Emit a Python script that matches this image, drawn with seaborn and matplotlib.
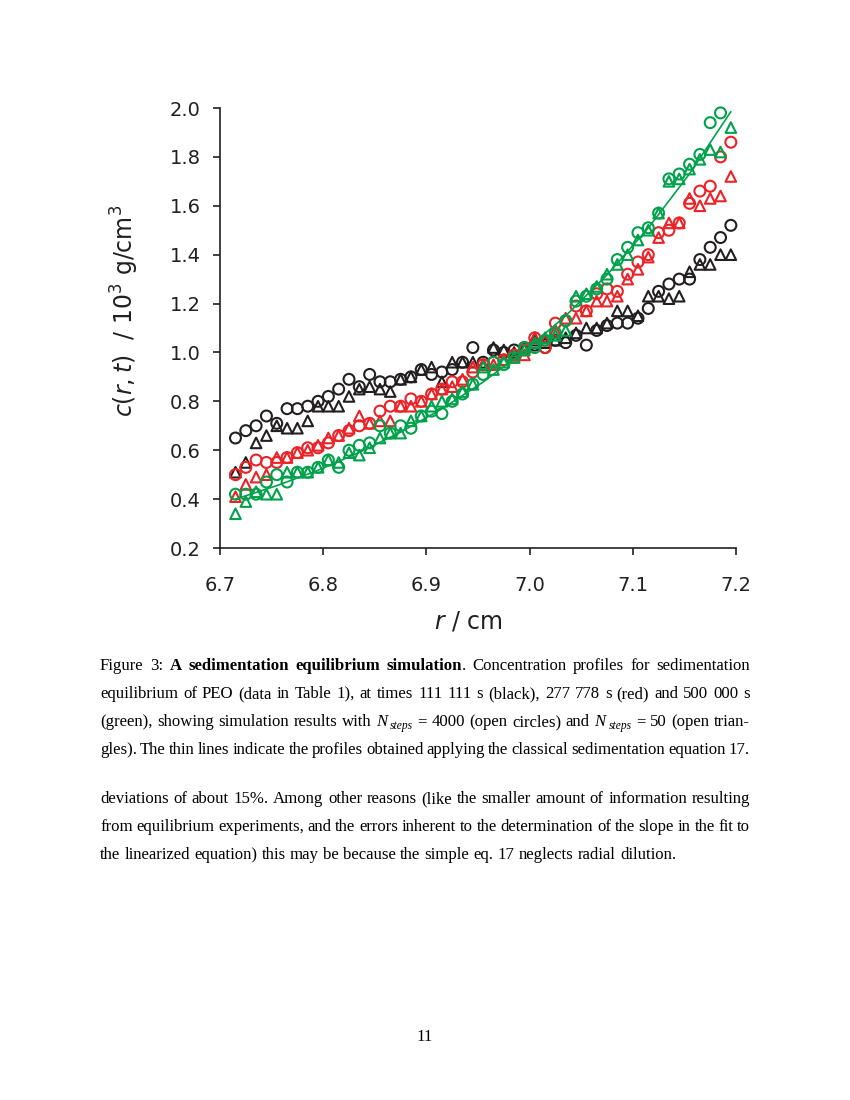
import numpy as np
import pandas as pd
import matplotlib
matplotlib.use("Agg")
import matplotlib.pyplot as plt
import seaborn as sns

# ---------------- data ----------------
r_vals = [6.715, 6.725, 6.735, 6.745, 6.755, 6.765, 6.775, 6.785, 6.795, 6.805,
          6.815, 6.825, 6.835, 6.845, 6.855, 6.865, 6.875, 6.885, 6.895, 6.905,
          6.915, 6.925, 6.935, 6.945, 6.955, 6.965, 6.975, 6.985, 6.995, 7.005,
          7.015, 7.025, 7.035, 7.045, 7.055, 7.065, 7.075, 7.085, 7.095, 7.105,
          7.115, 7.125, 7.135, 7.145, 7.155, 7.165, 7.175, 7.185, 7.195]

black_circles = [0.65, 0.68, 0.70, 0.74, 0.71, 0.77, 0.77, 0.78, 0.80, 0.82, 0.85, 0.89,
                 0.86, 0.91, 0.88, 0.88, 0.89, 0.90, 0.93, 0.91, 0.92, 0.93, 0.96, 1.02,
                 0.96, 1.01, 1.00, 1.01, 1.02, 1.03, 1.02, 1.05, 1.04, 1.07, 1.03, 1.09,
                 1.11, 1.12, 1.12, 1.14, 1.18, 1.25, 1.28, 1.30, 1.30, 1.38, 1.43, 1.47, 1.52]
black_triangles = [0.51, 0.55, 0.63, 0.66, 0.70, 0.69, 0.69, 0.72, 0.78, 0.78, 0.78, 0.82,
                   0.85, 0.86, 0.85, 0.84, 0.89, 0.90, 0.93, 0.94, 0.88, 0.96, 0.96, 0.96,
                   0.95, 1.02, 1.01, 1.00, 1.02, 1.05, 1.04, 1.05, 1.06, 1.08, 1.10, 1.10,
                   1.12, 1.17, 1.17, 1.15, 1.23, 1.23, 1.22, 1.23, 1.33, 1.36, 1.36, 1.40, 1.40]
red_circles = [0.50, 0.53, 0.56, 0.55, 0.55, 0.57, 0.59, 0.61, 0.61, 0.63, 0.66, 0.68,
               0.70, 0.71, 0.76, 0.78, 0.78, 0.81, 0.80, 0.83, 0.85, 0.88, 0.88, 0.92,
               0.95, 0.96, 0.97, 0.99, 1.01, 1.06, 1.02, 1.12, 1.13, 1.19, 1.17, 1.24,
               1.26, 1.25, 1.32, 1.37, 1.40, 1.49, 1.50, 1.53, 1.61, 1.66, 1.68, 1.80, 1.86]
red_triangles = [0.41, 0.46, 0.49, 0.50, 0.57, 0.57, 0.59, 0.60, 0.62, 0.65, 0.66, 0.69,
                 0.74, 0.71, 0.72, 0.72, 0.78, 0.78, 0.80, 0.83, 0.85, 0.86, 0.89, 0.94,
                 0.95, 0.95, 0.97, 0.98, 0.99, 1.06, 1.05, 1.09, 1.14, 1.14, 1.17, 1.21,
                 1.21, 1.23, 1.30, 1.34, 1.39, 1.47, 1.53, 1.53, 1.63, 1.60, 1.63, 1.64, 1.72]
green_circles = [0.42, 0.42, 0.42, 0.47, 0.50, 0.47, 0.51, 0.51, 0.53, 0.56, 0.53, 0.60,
                 0.62, 0.63, 0.70, 0.67, 0.70, 0.69, 0.74, 0.76, 0.75, 0.80, 0.83, 0.87,
                 0.91, 0.96, 0.95, 0.98, 1.02, 1.02, 1.05, 1.08, 1.13, 1.21, 1.23, 1.26,
                 1.30, 1.38, 1.43, 1.49, 1.51, 1.57, 1.71, 1.73, 1.77, 1.81, 1.94, 1.98, np.nan]
green_triangles = [0.34, 0.39, 0.43, 0.42, 0.42, 0.51, 0.51, 0.51, 0.53, 0.56, 0.55, 0.59,
                   0.58, 0.61, 0.65, 0.67, 0.67, 0.72, 0.74, 0.78, 0.80, 0.81, 0.84, 0.87,
                   0.94, 0.93, 0.96, 0.98, 1.01, 1.04, 1.06, 1.07, 1.09, 1.23, 1.24, 1.27,
                   1.32, 1.36, 1.40, 1.46, 1.50, 1.57, 1.70, 1.71, 1.75, 1.79, 1.83, 1.82, 1.92]

line_r = [6.715, 6.755, 6.795, 6.835, 6.875, 6.915, 6.955, 6.995, 7.035, 7.075, 7.115, 7.155, 7.195]
green_line = [0.400, 0.455, 0.518, 0.591, 0.674, 0.769, 0.879, 1.005, 1.150, 1.317, 1.509, 1.731, 1.985]

x_ticks = [6.7, 6.8, 6.9, 7.0, 7.1, 7.2]
x_tick_labels = ["6.7", "6.8", "6.9", "7.0", "7.1", "7.2"]
y_ticks = [0.2, 0.4, 0.6, 0.8, 1.0, 1.2, 1.4, 1.6, 1.8, 2.0]
y_tick_labels = ["0.2", "0.4", "0.6", "0.8", "1.0", "1.2", "1.4", "1.6", "1.8", "2.0"]

BLACK = "#231f20"
RED = "#ec2227"
GREEN = "#00a14b"

# ---------------- style ----------------
sns.set_theme(style="ticks")
plt.rcParams["font.family"] = ["DejaVu Sans"]
plt.rcParams["mathtext.fontset"] = "custom"
plt.rcParams["mathtext.it"] = "DejaVu Sans:italic"
plt.rcParams["mathtext.rm"] = "DejaVu Sans"
plt.rcParams["mathtext.bf"] = "DejaVu Sans:bold"

W, H = 850, 1100
fig = plt.figure(figsize=(W / 100, H / 100), dpi=100, facecolor="white")
ax = fig.add_axes([220 / W, 1 - 548 / H, 516 / W, 440 / H])
ax.set_facecolor("white")

series = [
    (black_circles, "o", BLACK, 62),
    (black_triangles, "^", BLACK, 58),
    (red_circles, "o", RED, 62),
    (red_triangles, "^", RED, 58),
    (green_circles, "o", GREEN, 62),
    (green_triangles, "^", GREEN, 58),
]
for vals, mk, col, sz in series:
    df = pd.DataFrame({"r": r_vals, "c": vals}).dropna()
    sns.scatterplot(data=df, x="r", y="c", ax=ax, marker=mk, s=sz,
                    color=col, facecolor="none", edgecolor=col,
                    linewidth=1.5, legend=False, zorder=3, clip_on=False)

dfl = pd.DataFrame({"r": line_r, "c": green_line})
sns.lineplot(data=dfl, x="r", y="c", ax=ax, color=GREEN, linewidth=1.2,
             estimator=None, sort=False, zorder=4)

ax.set_xlim(6.7, 7.2)
ax.set_ylim(0.2, 2.0)
ax.set_xticks(x_ticks)
ax.set_xticklabels(x_tick_labels)
ax.set_yticks(y_ticks)
ax.set_yticklabels(y_tick_labels)
sns.despine(ax=ax)
for sp in ("left", "bottom"):
    ax.spines[sp].set_color(BLACK)
    ax.spines[sp].set_linewidth(1.2)
ax.tick_params(axis="both", direction="out", length=5, width=1.2, color=BLACK,
               labelsize=14, labelcolor=BLACK)
ax.tick_params(axis="x", pad=15)
ax.tick_params(axis="y", pad=9)
ax.grid(False)

ax.set_xlabel(r"$r$ / cm", fontsize=17, color=BLACK)
ax.xaxis.set_label_coords(0.482, -0.139)
ax.set_ylabel(r"$c(r,t)$  / 10$^3$ g/cm$^3$", fontsize=17, color=BLACK)
ax.yaxis.set_label_coords(-0.153, 0.54)

# ---------------- caption and body text (justified) ----------------
renderer = fig.canvas.get_renderer()
SERIF = "Liberation Serif"
FS = 12.1


def props(kind):
    p = dict(family=SERIF, size=FS, color="black")
    if kind == "b":
        p["weight"] = "bold"
    elif kind == "i":
        p["style"] = "italic"
    elif kind == "sub":
        p["style"] = "italic"
        p["size"] = 8.3
    return p


_cache = {}


def seg_width(text, kind):
    key = (text, kind)
    if key not in _cache:
        t = fig.text(0, 0, text, **props(kind))
        _cache[key] = t.get_window_extent(renderer).width
        t.remove()
    return _cache[key]


def space_w():
    return seg_width("a a", "n") - seg_width("aa", "n")


def plain(s):
    return [[(w, "n")] for w in s.split()]


def draw_line(words, x0, x1, y, justify=True):
    widths = []
    for wd in words:
        tot = 0
        for txt, kind in wd:
            tot += seg_width(txt, kind) + (3 if kind == "sub" else 0)
        widths.append(tot)
    n = len(words)
    if justify and n > 1:
        gap = (x1 - x0 - sum(widths)) / (n - 1)
    else:
        gap = space_w()
    x = x0
    for wd, wdt in zip(words, widths):
        xx = x
        for txt, kind in wd:
            yy = y
            if kind == "sub":
                xx += 3
                yy = y + 3
            fig.text(xx / W, 1 - yy / H, txt, ha="left", va="baseline", **props(kind))
            xx += seg_width(txt, kind)
        x += wdt + gap


X0, X1 = 100, 750
cap1 = ([[("Figure", "n")], [("3:", "n")], [("A", "b")], [("sedimentation", "b")],
         [("equilibrium", "b")], [("simulation", "b"), (".", "n")]]
        + plain("Concentration profiles for sedimentation"))
cap2 = plain("equilibrium of PEO (data in Table 1), at times 111 111 s (black), 277 778 s (red) and 500 000 s")
cap3 = (plain("(green), showing simulation results with")
        + [[("N", "i"), ("steps", "sub")]]
        + plain("= 4000 (open circles) and")
        + [[("N", "i"), ("steps", "sub")]]
        + plain("= 50 (open trian-"))
cap4 = plain("gles). The thin lines indicate the profiles obtained applying the classical sedimentation equation 17.")

draw_line(cap1, X0, X1, 670)
draw_line(cap2, X0, X1, 698)
draw_line(cap3, X0, X1, 726)
draw_line(cap4, X0, X1, 754)

par1 = plain("deviations of about 15%. Among other reasons (like the smaller amount of information resulting")
par2 = plain("from equilibrium experiments, and the errors inherent to the determination of the slope in the fit to")
par3 = plain("the linearized equation) this may be because the simple eq. 17 neglects radial dilution.")
draw_line(par1, X0, X1, 803)
draw_line(par2, X0, X1, 831)
draw_line(par3, X0, X1, 859, justify=False)

fig.text(425 / W, 1 - 1041 / H, "11", ha="center", va="baseline", **props("n"))

fig.savefig("out.png", dpi=100, facecolor="white")
